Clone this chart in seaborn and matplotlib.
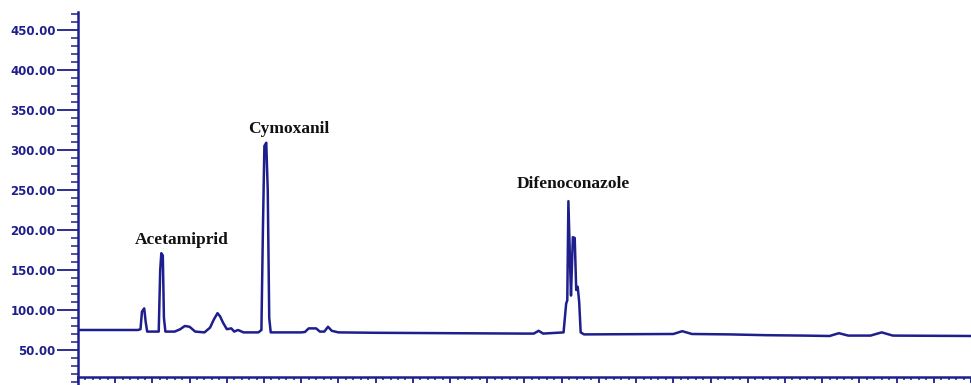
import matplotlib
matplotlib.use("Agg")
import matplotlib.pyplot as plt
from matplotlib.ticker import MultipleLocator, FixedLocator
import seaborn as sns
import pandas as pd

# trace (time in min, detector response)
times = [0.00, 1.61, 1.68, 1.72, 1.78, 1.82, 1.86, 2.17, 2.21, 2.24, 2.28, 2.31, 2.35,
         2.60, 2.75, 2.87, 3.00, 3.15, 3.40, 3.55, 3.65, 3.75, 3.82, 3.90, 4.00, 4.12,
         4.20, 4.30, 4.45, 4.85, 4.93, 4.97, 5.01, 5.06, 5.10, 5.14, 5.18, 6.00, 6.10,
         6.20, 6.40, 6.50, 6.62, 6.72, 6.82, 7.00, 8.00, 10.00, 12.00, 12.25, 12.38,
         12.50, 13.05, 13.12, 13.15, 13.18, 13.23, 13.25, 13.30, 13.35, 13.39, 13.43,
         13.47, 13.51, 13.60, 16.00, 16.24, 16.50, 17.50, 18.50, 19.50, 20.20, 20.45,
         20.70, 21.30, 21.60, 21.90, 24.00]
signal = [75.0, 75.0, 76.0, 98.0, 102.0, 85.0, 73.0, 73.0, 150.0, 171.0, 168.0, 90.0, 73.0,
          73.0, 76.0, 80.0, 79.0, 73.0, 72.0, 78.0, 88.0, 96.0, 92.0, 84.0, 76.0, 77.0,
          73.0, 75.0, 72.0, 72.0, 75.0, 200.0, 305.0, 309.0, 250.0, 90.0, 72.0, 72.0, 72.5,
          77.0, 77.0, 73.0, 73.0, 79.0, 74.0, 72.0, 71.5, 71.0, 70.5, 70.5, 74.0,
          70.5, 72.0, 108.0, 112.0, 236.0, 150.0, 118.0, 191.0, 190.0, 125.0, 129.0,
          110.0, 72.0, 69.5, 70.0, 73.5, 70.0, 69.5, 68.5, 68.0, 67.5, 71.0,
          68.0, 68.0, 72.0, 68.0, 67.5]

peak_names = ["Acetamiprid", "Cymoxanil", "Difenoconazole"]
label_x = [1.53, 4.56, 11.79]
label_y = [187.5, 326.0, 257.5]

x_ticks = list(range(0, 25))
x_labels = [str(t) if t % 2 == 0 else "" for t in x_ticks]
y_ticks = [50, 100, 150, 200, 250, 300, 350, 400, 450]
y_labels = ["%.2f" % v for v in y_ticks]

navy = "#1e1e8c"
df = pd.DataFrame({"time": times, "signal": signal})

sns.set_style("white")
fig = plt.figure(figsize=(9.71, 3.85), dpi=100)
ax = fig.add_axes([0.0803, 0.0, 0.9197, 0.969])

sns.lineplot(data=df, x="time", y="signal", estimator=None, color=navy, linewidth=1.8, ax=ax)

for name, tx, ty in zip(peak_names, label_x, label_y):
    ax.text(tx, ty, name, family="Liberation Serif", fontweight="bold", fontsize=12.5,
            color="#111111", va="center", ha="left")

ax.set_xlim(0, 24)
ax.set_ylim(6.25, 472.5)
ax.set_xlabel("")
ax.set_ylabel("")

ax.spines["top"].set_visible(False)
ax.spines["right"].set_visible(False)
ax.spines["left"].set_color(navy)
ax.spines["bottom"].set_color(navy)
ax.spines["left"].set_linewidth(1.8)
ax.spines["bottom"].set_linewidth(1.8)
ax.spines["bottom"].set_position(("data", 16.25))

ax.yaxis.set_major_locator(FixedLocator(y_ticks))
ax.set_yticklabels(y_labels)
ax.yaxis.set_minor_locator(MultipleLocator(10))
ax.xaxis.set_major_locator(FixedLocator(x_ticks))
ax.set_xticklabels(x_labels)
ax.xaxis.set_minor_locator(MultipleLocator(0.2))

ax.tick_params(axis="y", which="major", direction="out", length=15, width=1.3,
               colors=navy, labelsize=8.5, pad=1, left=True)
ax.tick_params(axis="y", which="minor", direction="out", length=5, width=1.1,
               colors=navy, left=True)
ax.tick_params(axis="x", which="major", direction="out", length=4.5, width=1.3,
               colors=navy, labelsize=8.5, pad=0.5, bottom=True)
ax.tick_params(axis="x", which="minor", direction="out", length=2.2, width=1.1,
               colors=navy, bottom=True)
for lab in ax.get_yticklabels():
    lab.set_fontweight("bold")

fig.savefig("out.png", dpi=100, facecolor="white")
